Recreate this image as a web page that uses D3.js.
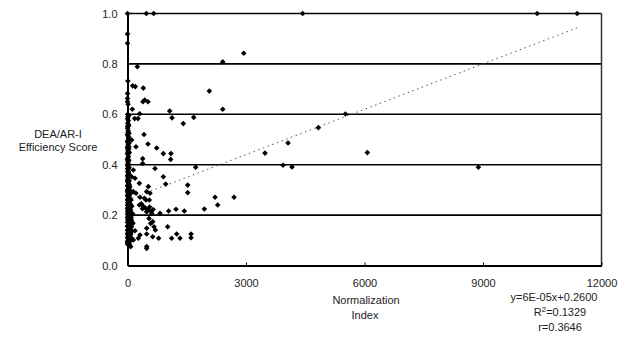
<!DOCTYPE html>
<html>
<head>
<meta charset="utf-8">
<script src="https://cdn.jsdelivr.net/npm/d3@7"></script>
<style>
  body { margin: 0; background: #fff; }
  text { font-family: "Liberation Sans", Arial, sans-serif; fill: #222; }
</style>
</head>
<body>
<div id="chart"></div>
<script>
// Normalization index vs DEA/AR-I efficiency score, [x, y]
const spreadPoints = [
  [0, 1.0], [477, 1.0], [663, 1.0], [4435, 1.0], [10369, 1.0], [11382, 1.0],
  [0, 0.919], [0, 0.882], [2942, 0.842], [2410, 0.808], [249, 0.789],
  [10, 0.732], [131, 0.713], [198, 0.71], [400, 0.704], [2072, 0.692],
  [0, 0.683], [0, 0.663], [0, 0.65], [392, 0.65], [435, 0.657], [519, 0.65], [15, 0.64],
  [122, 0.62], [2410, 0.62], [1068, 0.613], [308, 0.602], [5516, 0.601],
  [1127, 0.586], [1676, 0.588], [182, 0.583], [266, 0.583], [1413, 0.563], [4832, 0.547],
  [418, 0.52], [106, 0.498], [4064, 0.486], [519, 0.482], [215, 0.471], [739, 0.466],
  [907, 0.444], [1101, 0.444], [3481, 0.446], [6072, 0.448], [1093, 0.421], [384, 0.424],
  [384, 0.405], [3937, 0.398], [4165, 0.391], [8883, 0.39], [1726, 0.39], [696, 0.385],
  [148, 0.379], [907, 0.352], [106, 0.352], [190, 0.346], [300, 0.326], [966, 0.323],
  [1524, 0.319], [528, 0.313], [486, 0.293], [148, 0.293], [1524, 0.289], [570, 0.287],
  [215, 0.287], [2216, 0.271], [2697, 0.271], [316, 0.271], [426, 0.267], [469, 0.26],
  [553, 0.26], [350, 0.245], [300, 0.24], [2283, 0.24], [400, 0.235], [560, 0.232],
  [450, 0.228], [380, 0.225], [1945, 0.224], [1228, 0.223], [650, 0.222], [520, 0.22],
  [1439, 0.216], [1042, 0.216], [600, 0.215], [486, 0.213], [822, 0.207], [612, 0.207],
  [545, 0.187], [638, 0.174], [587, 0.167], [1017, 0.154], [671, 0.154], [486, 0.148],
  [705, 0.141], [190, 0.138], [1245, 0.125], [1608, 0.125], [486, 0.125], [316, 0.121],
  [638, 0.114], [1608, 0.11], [1329, 0.108], [1118, 0.108], [789, 0.108], [274, 0.108],
  [148, 0.101], [80, 0.075], [486, 0.075], [486, 0.068]
];

// dense column of schools near zero index
const clusterPoints = [
  [5, 0.6], [12, 0.59], [20, 0.575], [8, 0.565], [30, 0.555], [3, 0.545], [18, 0.535],
  [40, 0.525], [10, 0.515], [25, 0.505], [6, 0.495], [35, 0.485], [15, 0.478], [2, 0.47],
  [28, 0.462], [9, 0.455], [45, 0.448], [14, 0.44], [22, 0.432], [4, 0.425], [33, 0.418],
  [11, 0.41], [26, 0.402], [7, 0.395], [38, 0.388], [16, 0.38], [2, 0.372], [30, 0.366],
  [12, 0.36], [50, 0.354], [20, 0.348], [5, 0.342], [42, 0.336], [14, 0.33], [27, 0.324],
  [8, 0.318], [60, 0.312], [18, 0.306], [3, 0.3], [35, 0.295], [10, 0.29], [75, 0.285],
  [24, 0.28], [6, 0.275], [48, 0.27], [15, 0.265], [90, 0.26], [30, 0.255], [4, 0.25],
  [65, 0.245], [20, 0.24], [110, 0.235], [9, 0.23], [40, 0.225], [80, 0.22], [2, 0.215],
  [28, 0.21], [130, 0.205], [55, 0.2], [12, 0.196], [95, 0.19], [35, 0.186], [6, 0.182],
  [70, 0.177], [20, 0.172], [140, 0.168], [45, 0.163], [3, 0.158], [100, 0.154], [25, 0.15],
  [60, 0.145], [10, 0.141], [120, 0.137], [38, 0.132], [5, 0.128], [85, 0.124], [22, 0.12],
  [50, 0.116], [8, 0.112], [105, 0.108], [30, 0.104], [15, 0.1], [65, 0.096], [4, 0.092],
  [40, 0.088], [20, 0.084], [55, 0.08],
  [30, 0.595], [2, 0.582], [22, 0.56], [0, 0.552], [14, 0.528], [0, 0.52], [30, 0.51],
  [0, 0.49], [20, 0.49], [0, 0.465], [36, 0.47], [0, 0.445], [28, 0.45], [0, 0.42],
  [18, 0.415], [0, 0.4], [30, 0.39], [0, 0.385], [22, 0.372], [0, 0.355], [40, 0.36],
  [0, 0.335], [25, 0.338], [0, 0.315], [45, 0.32], [0, 0.295], [25, 0.298], [55, 0.3],
  [0, 0.28], [38, 0.276], [0, 0.26], [22, 0.258], [60, 0.262], [0, 0.24], [40, 0.242],
  [85, 0.24], [0, 0.225], [25, 0.222], [60, 0.228], [0, 0.205], [40, 0.205], [90, 0.21],
  [0, 0.19], [25, 0.188], [65, 0.19], [0, 0.172], [45, 0.175], [100, 0.18], [0, 0.155],
  [30, 0.158], [75, 0.16], [0, 0.14], [40, 0.142], [90, 0.138], [0, 0.125], [25, 0.128],
  [60, 0.128], [0, 0.11], [45, 0.11], [80, 0.112], [0, 0.095], [30, 0.092], [0, 0.085]
];

const xTicks = [0, 3000, 6000, 9000, 12000];
const yTicks = [0, 0.2, 0.4, 0.6, 0.8, 1.0];
const trendCoef = [0.00006, 0.26];   // slope, intercept
const trendRange = [0, 11400];
const eqLines = [["y=6E-05x+0.2600"], ["R", "2", "=0.1329"], ["r=0.3646"]];

const W = 626, H = 337;
const svg = d3.select("#chart").append("svg")
  .attr("width", W).attr("height", H);

const x = d3.scaleLinear().domain([0, 12000]).range([127.5, 601.5]);
const y = d3.scaleLinear().domain([0, 1]).range([265.5, 13.5]);

// gridlines
svg.append("g")
  .selectAll("line")
  .data(yTicks.filter(d => d > 0))
  .join("line")
  .attr("x1", x(0)).attr("x2", x(12000))
  .attr("y1", d => y(d)).attr("y2", d => y(d))
  .attr("stroke", "#000").attr("stroke-width", 1.6);

// right border
svg.append("line")
  .attr("x1", x(12000)).attr("x2", x(12000))
  .attr("y1", y(1)).attr("y2", y(0))
  .attr("stroke", "#333").attr("stroke-width", 1.5);

// trendline
const trend = d3.line().x(d => x(d)).y(d => y(trendCoef[0] * d + trendCoef[1]));
svg.append("path")
  .attr("d", trend(trendRange))
  .attr("fill", "none")
  .attr("stroke", "#555")
  .attr("stroke-width", 1)
  .attr("stroke-dasharray", "1.5,3.5");

// points
const diamond = d3.symbol().type(d3.symbolDiamond2).size(20);
svg.append("g")
  .selectAll("path")
  .data(spreadPoints.concat(clusterPoints))
  .join("path")
  .attr("d", diamond)
  .attr("transform", d => `translate(${x(d[0])},${y(d[1])})`)
  .attr("fill", "#000");

// axes
const xAxis = svg.append("g")
  .attr("transform", `translate(0,${y(0)})`)
  .call(d3.axisBottom(x).tickValues(xTicks).tickFormat(d3.format("d"))
    .tickSizeInner(-3).tickSizeOuter(0).tickPadding(14));
xAxis.select(".domain").attr("stroke", "#000").attr("stroke-width", 2);
xAxis.selectAll(".tick line").attr("stroke", "#000");
xAxis.selectAll("text").style("font-size", "11px").attr("fill", "#222");

const yAxis = svg.append("g")
  .attr("transform", `translate(${x(0)},0)`)
  .call(d3.axisLeft(y).tickValues(yTicks).tickFormat(d3.format(".1f"))
    .tickSize(0).tickPadding(10));
yAxis.select(".domain").attr("stroke", "#000").attr("stroke-width", 2);
yAxis.selectAll("text").style("font-size", "11px").attr("fill", "#222");

// axis titles
svg.append("text")
  .attr("x", 58).attr("y", 138)
  .attr("text-anchor", "middle")
  .style("font-size", "11px")
  .text("DEA/AR-I");
svg.append("text")
  .attr("x", 58).attr("y", 151)
  .attr("text-anchor", "middle")
  .style("font-size", "11px")
  .text("Efficiency Score");

svg.append("text")
  .attr("x", 366).attr("y", 304)
  .attr("text-anchor", "middle")
  .style("font-size", "11px")
  .text("Normalization");
svg.append("text")
  .attr("x", 365).attr("y", 319)
  .attr("text-anchor", "middle")
  .style("font-size", "11px")
  .text("Index");

// trend equation
const eq = svg.append("g")
  .selectAll("text")
  .data(eqLines)
  .join("text")
  .attr("x", (d, i) => i === 0 ? 554 : 560)
  .attr("y", (d, i) => 301 + i * 15)
  .attr("text-anchor", "middle")
  .style("font-size", "11px");
eq.selectAll("tspan")
  .data(d => d)
  .join("tspan")
  .attr("dy", (d, i, n) => n.length === 3 ? (i === 1 ? -4 : i === 2 ? 4 : 0) : 0)
  .style("font-size", (d, i, n) => n.length === 3 && i === 1 ? "8px" : null)
  .text(d => d);
</script>
</body>
</html>
